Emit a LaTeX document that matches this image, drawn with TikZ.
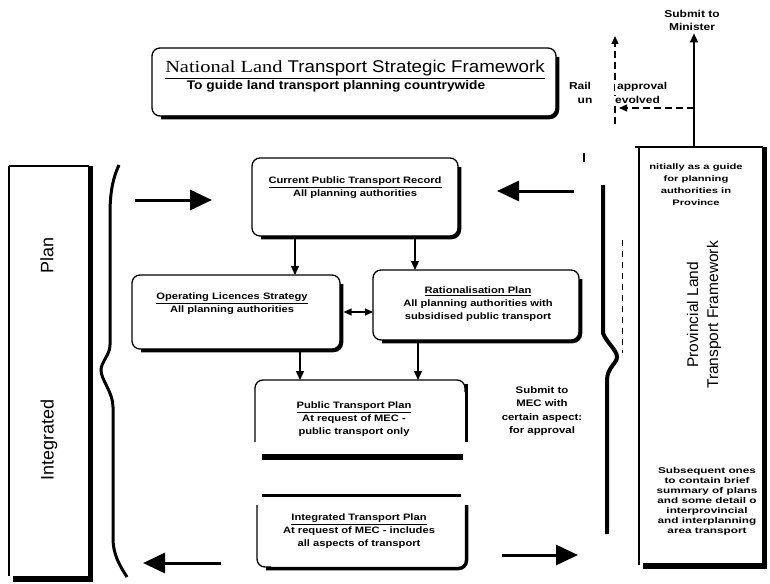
\documentclass[tikz,border=0pt]{standalone}
\usepackage{fontspec}
\setmainfont{Liberation Sans}[FakeStretch=1.2]
\newfontfamily\natsans{Liberation Sans}[FakeStretch=1.1]
\newfontfamily\natserif{Liberation Serif}[FakeStretch=1.2]
\newfontfamily\widesans{Liberation Sans}[FakeStretch=1.4]
\newfontfamily\plainsans{Liberation Sans}
\usetikzlibrary{arrows.meta}
\newcommand\drawshbox[1]{%
  \draw[edge] (#1.north west) rectangle (#1.south east);
  \draw[shd] ([xshift=1.5pt,yshift=-9pt]#1.north east) -- ([xshift=1.5pt,yshift=-1.5pt]#1.south east) -- ([xshift=9pt,yshift=-1.5pt]#1.south west);}
\begin{document}
\begin{tikzpicture}[x=1pt,y=-1pt,
  edge/.style={line width=1.3pt,rounded corners=8pt},
  shd/.style={line width=3.5pt,rounded corners=8pt},
  area/.style={inner sep=0pt,outer sep=0pt},
  boxtxt/.style={inner sep=0pt,align=center,font=\fontsize{9.3}{13}\selectfont\bfseries},
  big/.style={line width=3pt,-{Triangle[length=22pt,width=20pt]}},
  small/.style={line width=1.2pt,-{Triangle[length=9pt,width=8pt]}},
  dsh/.style={line width=1.2pt,dash pattern=on 7pt off 4pt},
  lbl/.style={fill=white,inner xsep=2.5pt,inner ysep=0pt,anchor=base west,font=\fontsize{10}{12}\selectfont\bfseries},
]
\fill[white] (0,0) rectangle (770,583);
\useasboundingbox (0,0) rectangle (770,583);

% ---- areas
\node[area,minimum width=404pt,minimum height=68pt] (nat) at (354,82) {};
\node[area,minimum width=206pt,minimum height=78pt] (cur) at (355,197) {};
\node[area,minimum width=208pt,minimum height=74pt] (ops) at (236,312) {};
\node[area,minimum width=206pt,minimum height=70pt] (rat) at (476,305) {};
\node[area,minimum width=210pt,minimum height=62pt] (ptp) at (360,411) {};
\node[area,minimum width=208pt,minimum height=62pt] (itp) at (361,536) {};
\node[area,minimum width=124pt,minimum height=418pt] (prov) at (701,356) {};
\node[area,minimum width=80pt,minimum height=410pt] (side) at (49,371) {};

% ---- box outlines
\drawshbox{nat}
\drawshbox{cur}
\drawshbox{ops}
\drawshbox{rat}
% public transport plan (open bottom) + bar
\draw[edge] (ptp.south west) -- (ptp.north west) -- (ptp.north east) -- ([yshift=-12pt]ptp.north east);
\draw[line width=3.5pt] ([xshift=1.5pt,yshift=-4pt]ptp.north east) -- ([xshift=1.5pt]ptp.south east);
\draw[line width=6pt] ([xshift=-98pt,yshift=-15pt]ptp.south) -- ([xshift=103pt,yshift=-15pt]ptp.south);
% integrated transport plan (open top) + bar
\draw[line width=3pt] ([xshift=-99pt,yshift=10pt]itp.north) -- ([xshift=100pt,yshift=10pt]itp.north);
\draw[edge] (itp.north west) -- (itp.south west) -- ([xshift=14pt]itp.south west);
\draw[shd] ([xshift=1.5pt]itp.north east) -- ([xshift=1.5pt,yshift=-1.5pt]itp.south east) -- ([xshift=9pt,yshift=-1.5pt]itp.south west);
% provincial frame
\draw[line width=1.2pt] ([xshift=-4pt]prov.north west) -- (prov.north east);
\draw[line width=2.5pt] (prov.north west) -- (prov.south west);
\draw[line width=5pt] ([xshift=1pt]prov.north east) -- ([xshift=1pt,yshift=-2pt]prov.south east);
\draw[line width=6pt] ([xshift=4pt,yshift=-1pt]prov.south west) -- ([xshift=4pt,yshift=-1pt]prov.south east);
% side frame
\draw[line width=2.5pt] (side.north west) -- (side.south west);
\draw[line width=1.5pt] (side.north west) -- (side.north east);
\draw[line width=5pt] ([xshift=1pt]side.north east) -- ([xshift=1pt,yshift=-3pt]side.south east);
\draw[line width=6pt] ([xshift=4pt,yshift=-3pt]side.south west) -- ([xshift=4pt,yshift=-3pt]side.south east);

% ---- texts
\node[inner sep=0pt,anchor=base,font=\fontsize{17}{19}\selectfont\natsans] (natT1) at (355,73)
  {\underline{{\natserif National Land} Transport Strategic Framework}};
\node[inner sep=0pt,anchor=base,font=\fontsize{12.5}{14}\selectfont\natsans\bfseries] (natT2) at (336,90)
  {To guide land transport planning countrywide};
\node[boxtxt] (curT) at (355,188) {\underline{Current Public Transport Record}\\All planning authorities};
\node[boxtxt] (opsT) at (232,304) {\underline{Operating Licences Strategy}\\All planning authorities};
\node[boxtxt] (ratT) at (478,304) {\underline{Rationalisation Plan}\\All planning authorities with\\subsidised public transport};
\node[boxtxt] (ptpT) at (354,419) {\underline{Public Transport Plan}\\At request of MEC -\\public transport only};
\node[boxtxt] (itpT) at (359,531) {\underline{Integrated Transport Plan}\\At request of MEC - includes\\all aspects of transport};
\node[inner sep=0pt,align=center,font=\fontsize{9.5}{13.5}\selectfont\bfseries] (mecT) at (542,411)
  {Submit to\\MEC with\\certain aspect:\\for approval};
\node[inner sep=0pt,align=center,font=\fontsize{10}{13}\selectfont\bfseries] (minT) at (692,20) {Submit to\\Minister};
\node[inner sep=0pt,anchor=base,font=\fontsize{10}{12}\selectfont\bfseries] (railT) at (580,90) {Rail};
\node[inner sep=0pt,anchor=base,font=\fontsize{10}{12}\selectfont\bfseries] (unT) at (585,103) {un};
\node[inner sep=0pt,align=center,font=\fontsize{8}{12}\selectfont\widesans\bfseries] (provT1) at (696,185)
  {nitially as a guide\\for planning\\authorities in\\Province};
\node[inner sep=0pt,align=center,font=\fontsize{8.4}{10}\selectfont\widesans\bfseries] (provT2) at (707,501)
  {Subsequent ones\\to contain brief\\summary of plans\\and some detail o\\interprovincial\\and interplanning\\area transport};
\node[inner sep=0pt,align=center,rotate=90,font=\fontsize{15.5}{20}\selectfont\plainsans] (provT) at (704,315)
  {Provincial Land\\Transport Framework};
\node[inner sep=0pt,rotate=90,font=\fontsize{18}{20}\selectfont\plainsans] (planT) at (47,255) {Plan};
\node[inner sep=0pt,rotate=90,font=\fontsize{18}{20}\selectfont\plainsans] (intT) at (49,440) {Integrated};

% ---- connectors between boxes
\draw[small] ([xshift=-60pt,yshift=-2pt]cur.south) -- ([xshift=59pt]ops.north);
\draw[small] ([xshift=60pt,yshift=-2pt]cur.south) -- ([xshift=-61pt]rat.north);
\draw[small] ([xshift=64pt,yshift=-3pt]ops.south) -- ([xshift=-60pt]ptp.north);
\draw[small] ([xshift=-58pt,yshift=-3pt]rat.south) -- ([xshift=58pt]ptp.north);
\draw[line width=1.2pt,{Triangle[length=8pt,width=7pt]}-{Triangle[length=8pt,width=7pt]}] ([xshift=3.5pt]ops.east) -- ([yshift=-7pt]rat.west);

% ---- big free arrows
\coordinate (a1s) at (135,200); \coordinate (a1e) at (212,200);
\coordinate (a2s) at (574,191); \coordinate (a2e) at (497,191);
\coordinate (a3s) at (221,563); \coordinate (a3e) at (143,563);
\coordinate (a4s) at (502,555); \coordinate (a4e) at (578,555);
\draw[big] (a1s) -- (a1e);
\draw[big] (a2s) -- (a2e);
\draw[big] (a3s) -- (a3e);
\draw[big] (a4s) -- (a4e);

% ---- submit to minister and rail approval
\coordinate (minBase) at ([xshift=-7pt]prov.north);
\draw[line width=1.3pt,-{Triangle[length=9pt,width=8pt]}] (minBase) -- ([yshift=-3pt]minT.south -| minBase);
\coordinate (d1s) at (694,108); \coordinate (d1e) at (619,108);
\draw[dsh,-{Triangle[length=8pt,width=7pt]}] (d1s) -- (d1e);
\coordinate (d2s) at (615,124); \coordinate (d2e) at (615,36);
\draw[dsh,-{Triangle[length=8pt,width=7pt]}] (d2s) -- (d2e);
\node[lbl] (apprT) at (614.5,90) {approval};
\node[lbl] (evolT) at (612.5,103) {evolved};

% ---- braces and marks
\draw[line width=3pt] (119,165) .. controls (112,180) and (110,195) .. (110,215) -- (110,345)
  .. controls (110,355) and (101,362) .. (101,370) .. controls (101,380) and (113,392) .. (113,407)
  -- (113,538) .. controls (113,555) and (120,566) .. (127,577);
\draw[line width=4pt] (603,185) -- (603,333) .. controls (606,342) and (617,350) .. (617,357)
  .. controls (617,363) and (607,368) .. (607,380) -- (607,534);
\draw[line width=0.8pt,dash pattern=on 6pt off 5pt] (622,240) -- (622,353);
\draw[line width=1.2pt] (584,153) -- (584,162);
\end{tikzpicture}
\end{document}
